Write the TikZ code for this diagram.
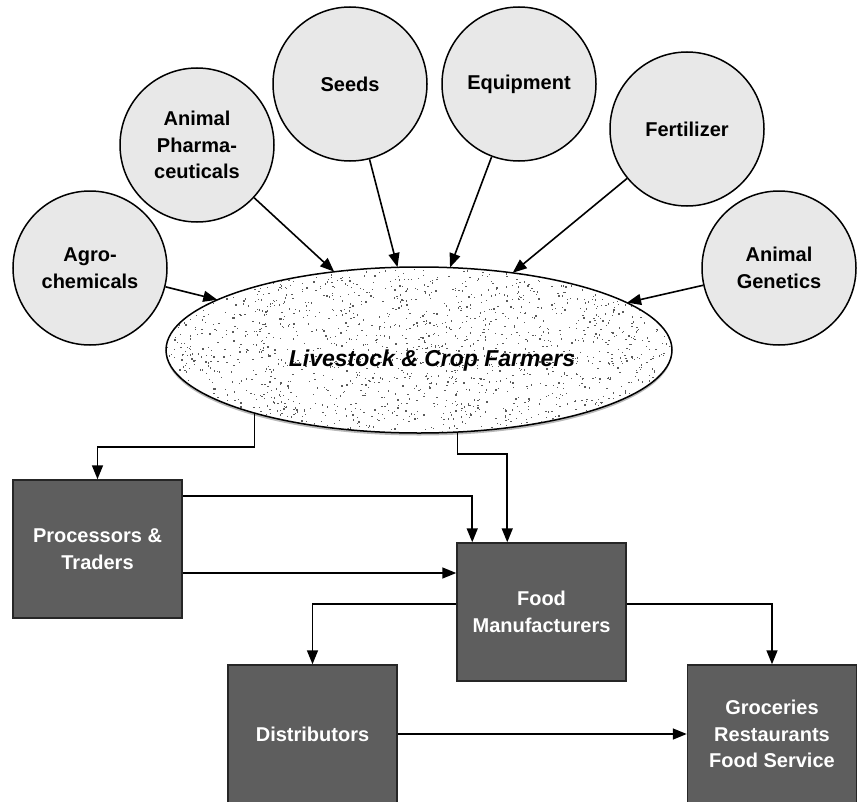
\documentclass[tikz,border=0pt]{standalone}
\usepackage{fontspec}
\setmainfont{Liberation Sans}
\usetikzlibrary{shapes.geometric,arrows.meta,calc}
\definecolor{circfill}{HTML}{E8E8E8}
\definecolor{boxfill}{HTML}{5E5E5E}
\definecolor{dotc}{HTML}{5A5A5A}
\begin{document}
\begin{tikzpicture}[x=1bp,y=-1bp,
  supplier/.style={circle, draw=black, line width=1.5bp, fill=circfill, minimum size=154bp, inner sep=0pt, align=center, font=\fontsize{20bp}{26.5bp}\selectfont\bfseries},
  stage/.style={rectangle, draw=black!85, line width=1.5bp, fill=boxfill, minimum width=169bp, minimum height=138bp, inner sep=0pt, align=center, text=white, font=\fontsize{20bp}{26.5bp}\selectfont\bfseries},
  conn/.style={line width=1.6bp, -{Triangle[length=14bp,width=11bp]}}]
\useasboundingbox (0,0) rectangle (859,802);
\clip (0,0) rectangle (859,802);

% suppliers
\node[supplier] (agro) at (90,268) {Agro-\\chemicals};
\node[supplier] (pharma) at (197,145) {Animal\\Pharma-\\ceuticals};
\node[supplier] (seeds) at (350,84) {Seeds};
\node[supplier] (equip) at (519,84) {Equipment};
\node[supplier] (fert) at (687,129) {Fertilizer};
\node[supplier] (gen) at (779,268) {Animal\\Genetics};

% farmers ellipse
\fill[gray!55] (419,352.5) ellipse [x radius=253, y radius=83];
\node[ellipse, fill=white, minimum width=506bp, minimum height=166bp, inner sep=0pt] (ell) at (419,350) {};
\begin{scope}
  \clip (419,350) ellipse [x radius=252, y radius=82];
  \pgfmathsetseed{4217}
  \foreach \i in {1,...,1900}{
    \fill[dotc] ({166+506*rnd},{267+166*rnd}) rectangle ++(1.3,1.3);
  }
\end{scope}
\draw[line width=1.5bp] (419,350) ellipse [x radius=253, y radius=83];
\node[font=\fontsize{23bp}{28bp}\selectfont\bfseries\itshape] (elltext) at (432,361) {Livestock \& Crop Farmers};

\draw[conn] (agro) -- (ell);
\draw[conn] (pharma) -- (ell);
\draw[conn] (seeds) -- (ell);
\draw[conn] (equip) -- (ell);
\draw[conn] (fert) -- (ell);
\draw[conn] (gen) -- (ell);

% stages
\node[stage] (proc) at (97.5,549) {Processors \&\\Traders};
\node[stage] (food) at (541.5,612) {Food\\Manufacturers};
\node[stage] (dist) at (312.5,734) {Distributors};
\node[stage] (groc) at (772,734) {Groceries\\Restaurants\\Food Service};

\draw[conn] (ell.201.8) -- (ell.201.8 |- 0,447) -| (proc.north);
\draw[conn] (ell.295.4) -- (ell.295.4 |- 0,454) -| ($(food.north west)+(51,0)$);
\draw[conn] ($(proc.north east)+(0,16.5)$) -| ($(food.north west)+(16,0)$);
\draw[conn] (proc.east |- 0,573) -- (food.west |- 0,573);
\draw[conn] (food.west |- 0,604) -| (dist.north);
\draw[conn] (food.east |- 0,604) -| (groc.north);
\draw[conn] (dist) -- (groc);
\end{tikzpicture}
\end{document}
